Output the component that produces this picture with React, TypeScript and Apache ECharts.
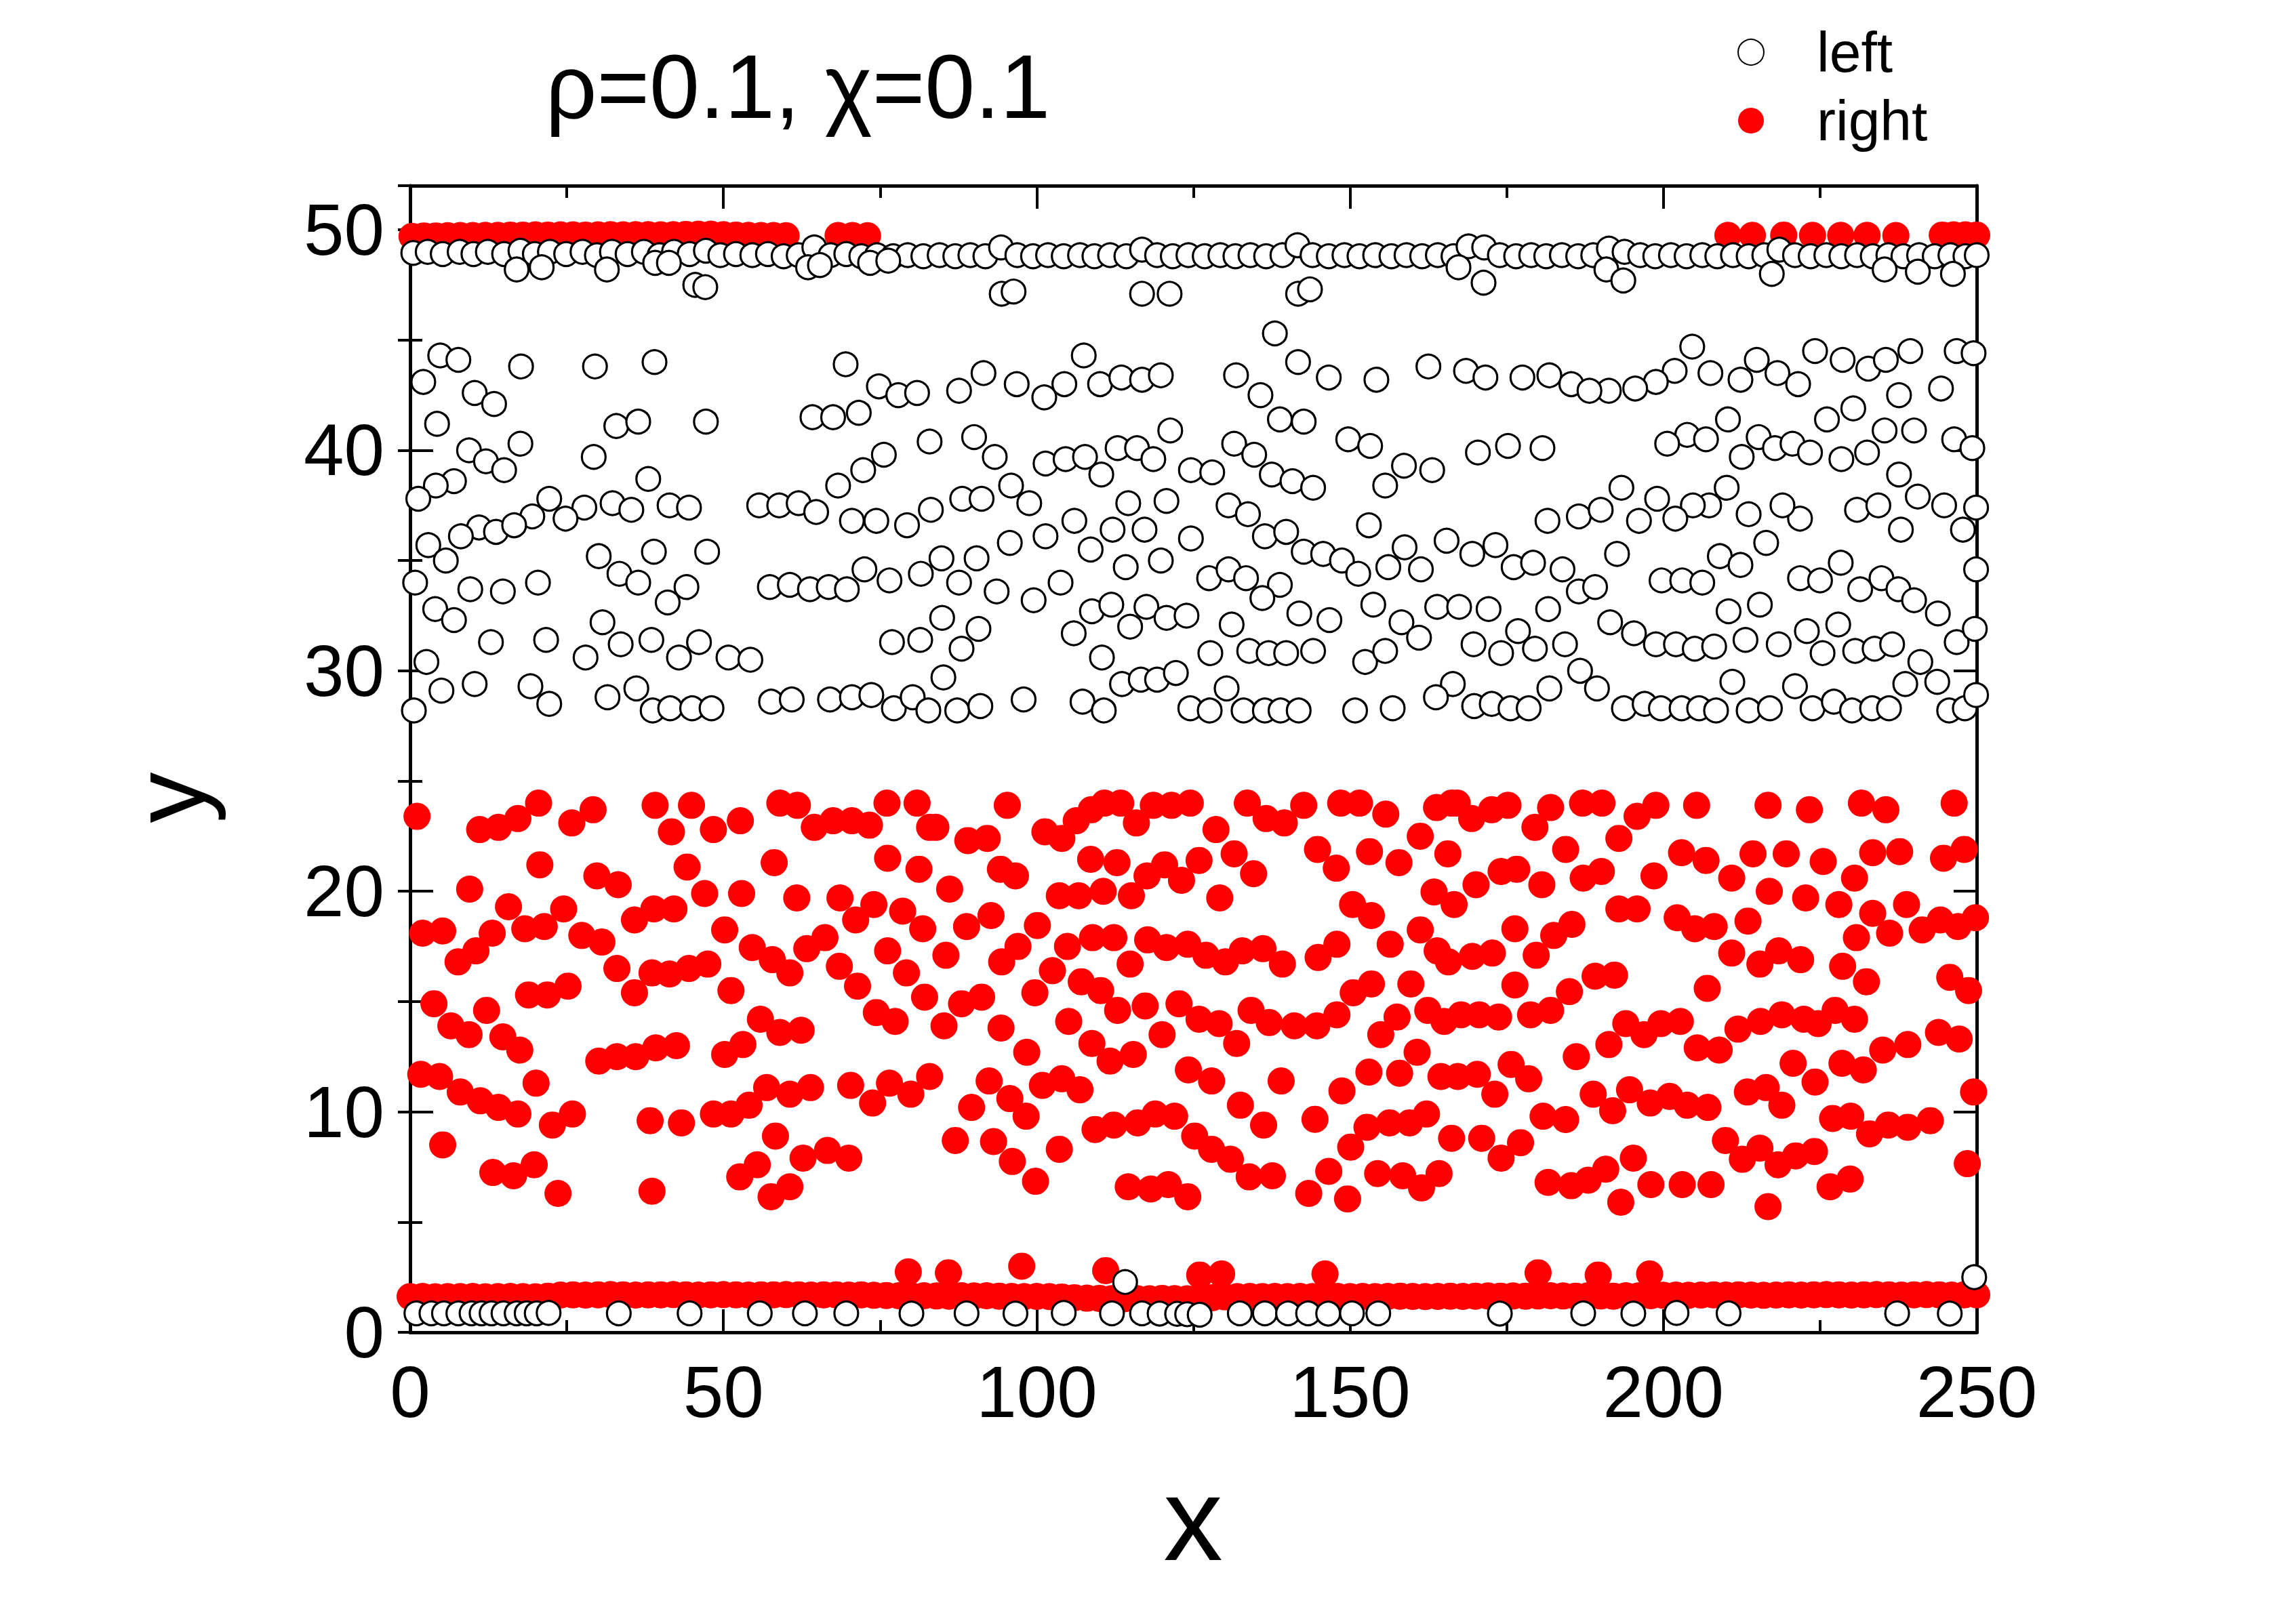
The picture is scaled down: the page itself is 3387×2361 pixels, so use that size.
import React, { useEffect, useRef } from "react";
import * as echarts from "echarts";

const FONT = "Liberation Sans, Arial, Helvetica, sans-serif";

const TITLE = "ρ=0.1, χ=0.1";
const SERIES_NAMES = ["left", "right"];
const X_MIN = 0;
const X_MAX = 250;
const X_STEP = 50;
const Y_MIN = 0;
const Y_MAX = 52;
const Y_STEP = 10;
const Y_LABELS = [0, 10, 20, 30, 40, 50];

// ---------- "left" (open circles) ----------
const leftBand: number[][] = [
  [4.8,44.3],[7.7,44.1],[17.7,43.8],[29.5,43.8],[39.0,44.0],[2.1,43.1],[10.3,42.6],[13.4,42.1],[4.3,41.2],[32.9,41.1],[36.4,41.3],[47.2,41.3],[9.4,40.0],[12.1,39.5],[17.6,40.3],[15.0,39.1],[29.3,39.7],[7.0,38.6],[4.1,38.4],[1.3,37.8],[38.0,38.7],[22.2,37.8],[27.8,37.4],[32.3,37.6],[35.3,37.3],[41.4,37.5],[44.5,37.4],[55.7,37.5],[58.9,37.5],[62.0,37.6],[19.5,37.0],[24.8,36.9],[11.0,36.5],[8.1,36.1],[13.7,36.3],[16.6,36.6],[2.9,35.7],[5.7,35.0],[30.1,35.2],[38.9,35.4],[47.4,35.4],[0.8,34.0],[9.6,33.7],[14.8,33.6],[20.4,34.0],[33.4,34.4],[36.4,34.0],[44.1,33.8],[41.1,33.1],[57.4,33.8],[60.6,33.9],[4.0,32.8],[7.0,32.3],[30.7,32.2],[12.9,31.3],[21.7,31.4],[33.6,31.2],[38.5,31.4],[46.1,31.3],[28.0,30.6],[42.9,30.6],[50.8,30.6],[54.3,30.5],[2.6,30.4],[10.3,29.4],[5.0,29.1],[19.2,29.3],[22.2,28.5],[31.5,28.8],[36.1,29.2],[38.7,28.2],[41.5,28.3],[45.0,28.3],[48.1,28.3],[57.6,28.6],[60.9,28.7],[0.6,28.2],
  [69.5,43.9],[74.8,42.9],[77.9,42.5],[80.9,42.6],[64.2,41.5],[67.5,41.5],[71.6,41.7],[87.6,42.7],[91.5,43.5],[96.8,43.0],[101.2,42.4],[104.4,43.0],[107.5,44.3],[110.1,43.0],[113.5,43.3],[116.8,43.2],[119.8,43.4],[82.9,40.4],[90.0,40.6],[93.3,39.7],[75.6,39.8],[72.3,39.1],[68.3,38.4],[101.4,39.4],[104.6,39.6],[107.7,39.7],[110.3,38.9],[112.9,40.1],[116.0,40.1],[118.6,39.6],[121.3,40.9],[124.6,39.1],[64.8,37.2],[70.5,36.8],[74.4,36.8],[79.3,36.6],[83.1,37.3],[88.1,37.8],[91.2,37.8],[95.9,38.4],[98.8,37.6],[114.6,37.6],[120.7,37.7],[106.0,36.8],[101.4,36.1],[95.7,35.8],[112.1,36.4],[117.2,36.4],[108.6,35.5],[124.6,36.0],[84.8,35.1],[90.4,35.1],[72.5,34.6],[81.5,34.4],[76.5,34.1],[63.8,33.7],[66.8,33.8],[69.7,33.7],[87.6,34.0],[93.6,33.6],[99.5,33.2],[103.8,34.0],[114.2,34.7],[119.8,35.0],[108.8,32.7],[111.9,33.0],[117.5,32.9],[120.7,32.4],[123.9,32.5],[114.9,32.0],[105.9,31.7],[84.9,32.4],[90.7,31.9],[88.0,31.0],[76.9,31.3],[81.4,31.4],[110.4,30.6],[85.1,29.7],[113.6,29.4],[116.6,29.6],[119.2,29.6],[122.2,29.9],[67.0,28.7],[70.5,28.8],[73.6,28.9],[77.2,28.3],[80.2,28.8],[82.7,28.2],[87.3,28.2],[91.0,28.4],[97.9,28.7],[107.3,28.6],[110.7,28.2],[124.5,28.3],
  [138.0,45.3],[141.7,44.0],[131.8,43.4],[146.6,43.3],[154.2,43.2],[162.5,43.8],[168.5,43.6],[171.6,43.3],[177.5,43.3],[181.8,43.4],[185.3,43.0],[135.7,42.5],[138.8,41.4],[142.6,41.3],[149.7,40.5],[153.2,40.2],[131.5,40.3],[134.7,39.8],[128.0,39.0],[137.5,38.9],[140.8,38.6],[144.1,38.3],[158.6,39.3],[163.1,39.1],[155.6,38.4],[170.4,39.9],[175.2,40.2],[180.7,40.1],[130.6,37.5],[133.7,37.1],[153.0,36.6],[181.5,36.8],[186.5,37.0],[136.4,36.1],[139.8,36.3],[142.6,35.4],[145.7,35.3],[148.7,35.0],[151.3,34.4],[156.1,34.7],[158.7,35.6],[161.3,34.6],[165.4,35.9],[169.5,35.3],[173.2,35.7],[176.1,34.7],[179.2,34.9],[183.9,34.6],[186.5,33.6],[127.5,34.2],[130.6,34.6],[133.4,34.2],[138.8,33.9],[136.0,33.3],[131.1,32.1],[141.9,32.6],[146.7,32.3],[153.7,33.0],[158.2,32.2],[161.0,31.5],[163.9,32.9],[167.4,32.9],[172.1,32.8],[181.6,32.8],[176.8,31.8],[169.7,31.2],[174.1,30.8],[179.5,31.0],[184.3,31.2],[186.7,30.0],[127.7,30.8],[133.9,30.9],[137.0,30.8],[139.8,30.8],[144.1,30.9],[152.4,30.4],[155.6,30.9],[130.3,29.2],[166.4,29.4],[163.7,28.8],[181.8,29.2],[127.6,28.2],[133.0,28.2],[136.4,28.2],[138.9,28.2],[141.8,28.2],[150.8,28.2],[156.8,28.3],[169.8,28.4],[172.6,28.5],[175.6,28.3],[178.5,28.3],
  [204.6,44.7],[201.8,43.6],[198.8,43.1],[195.5,42.8],[191.3,42.7],[188.2,42.7],[207.5,43.5],[212.3,43.2],[214.9,44.1],[218.2,43.5],[221.5,43.0],[224.2,44.5],[228.6,44.1],[232.7,43.7],[235.5,44.1],[239.4,44.5],[246.8,44.5],[249.5,44.4],[244.3,42.8],[237.6,42.5],[230.3,41.9],[226.1,41.4],[210.3,41.4],[203.8,40.7],[200.6,40.3],[206.8,40.5],[212.5,39.7],[215.2,40.6],[217.8,40.1],[220.6,40.3],[223.4,39.9],[228.4,39.6],[232.5,39.9],[235.3,40.9],[240.0,40.9],[246.4,40.5],[249.3,40.1],[237.6,38.9],[240.6,37.9],[244.8,37.5],[249.9,37.4],[247.8,36.4],[237.9,36.4],[230.9,37.3],[234.3,37.5],[221.8,36.9],[219.0,37.5],[213.6,37.1],[210.1,38.3],[207.3,37.5],[204.7,37.5],[201.9,36.9],[199.0,37.8],[196.1,36.8],[193.3,38.3],[190.0,37.3],[216.4,35.8],[192.6,35.3],[209.0,35.2],[212.3,34.8],[199.7,34.1],[203.0,34.1],[206.2,34.0],[189.1,33.8],[221.8,34.2],[225.0,34.1],[228.3,34.9],[231.4,33.7],[234.8,34.2],[237.5,33.7],[240.0,33.2],[243.8,32.6],[249.9,34.6],[210.4,32.7],[215.4,33.0],[191.5,32.2],[195.3,31.7],[198.8,31.2],[202.0,31.2],[205.0,31.0],[208.1,31.1],[213.1,31.4],[218.4,31.2],[222.9,31.8],[227.9,32.1],[225.4,30.8],[230.6,30.9],[233.7,31.0],[236.5,31.2],[241.0,30.4],[246.8,31.3],[249.7,31.9],[189.4,29.2],[211.0,29.5],[221.0,29.3],[238.6,29.4],[243.7,29.5],[193.7,28.3],[197.0,28.5],[199.6,28.3],[202.9,28.3],[205.7,28.3],[208.4,28.2],[213.6,28.2],[217.0,28.3],[223.8,28.3],[227.2,28.6],[230.1,28.2],[233.3,28.3],[236.0,28.3],[245.6,28.2],[248.1,28.3],[249.9,28.9]
];

const leftTopRow: number[][] = [
  [0.5,48.95],[2.8,49.0],[5.2,48.9],[7.9,49.0],[10.1,48.9],[12.4,49.0],[15.0,48.9],[17.6,49.05],[19.9,48.9],[22.3,49.0],[24.9,48.9],[27.5,49.0],[29.8,48.85],[32.2,49.0],[34.7,48.9],[37.3,49.0],[39.8,48.85],[42.1,49.0],[44.6,48.9],[47.2,49.05],[49.5,48.85],[52.0,48.9],[54.6,48.85],[57.1,48.9],[59.6,48.8],[62.0,48.85],[64.5,49.2],[67.1,48.85],[69.6,48.9],[72.0,48.8],[74.5,48.85],[77.1,48.8],[79.4,48.85],[81.9,48.8],[84.5,48.85],[87.0,48.8],[89.4,48.85],[91.8,48.8],[94.3,49.2],[96.9,48.85],[99.4,48.8],[101.8,48.85],[104.3,48.8],[106.9,48.85],[109.2,48.8],[111.7,48.85],[114.3,48.8],[116.8,49.1],[119.2,48.85],[121.7,48.8],[124.2,48.85],[126.8,48.8],[129.3,48.85],[131.7,48.8],[134.1,48.85],[136.6,48.8],[139.2,48.85],[141.6,49.3],[144.0,48.85],[146.6,48.8],[149.1,48.85],[151.5,48.8],[154.0,48.85],[156.6,48.8],[159.0,48.85],[161.5,48.8],[164.0,48.85],[166.5,48.8],[168.9,49.25],[171.4,49.2],[173.9,48.85],[176.5,48.8],[178.9,48.85],[181.3,48.8],[183.8,48.85],[186.4,48.8],[188.8,48.85],[191.3,49.15],[193.8,49.0],[196.3,48.85],[198.7,48.8],[201.2,48.85],[203.7,48.8],[206.2,48.85],[208.6,48.8],[211.1,48.85],[213.6,48.8],[216.1,48.85],[218.5,49.1],[221.0,48.85],[223.5,48.8],[226.0,48.85],[228.4,48.8],[230.9,48.85],[233.4,48.8],[235.9,48.85],[238.3,48.8],[240.8,48.85],[243.3,48.8],[245.8,48.85],[248.2,48.8],[250.0,48.85]
];

const leftTopDips: number[][] = [
  [17.0,48.2],[21.0,48.3],[31.4,48.2],[39.1,48.5],[41.3,48.5],[45.5,47.5],[47.1,47.4],[63.5,48.3],[65.4,48.4],[73.4,48.5],[76.3,48.6],[94.4,47.1],[96.3,47.2],[116.8,47.1],[121.2,47.1],[141.7,47.1],[143.6,47.3],[167.3,48.3],[171.3,47.6],[190.9,48.2],[193.6,47.7],[217.3,48.0],[235.3,48.2],[240.6,48.1],[246.2,48.0]
];

const leftBottomRow: number[][] = [
  [1.0,0.86],[3.4,0.86],[5.4,0.86],[7.7,0.86],[9.8,0.86],[11.4,0.86],[13.0,0.86],[14.9,0.86],[17.0,0.86],[18.6,0.86],[20.2,0.86],[22.1,0.88],[33.3,0.86],[44.6,0.86],[55.8,0.86],[63.0,0.86],[69.6,0.86],[80.0,0.85],[88.8,0.86],[96.6,0.85],[104.3,0.88],[112.0,0.86],[116.8,0.86],[119.6,0.85],[122.4,0.84],[124.0,0.82],[126.0,0.8],[132.4,0.86],[136.4,0.86],[140.1,0.86],[143.3,0.86],[146.5,0.85],[150.3,0.86],[154.5,0.86],[173.9,0.85],[187.2,0.86],[195.2,0.85],[202.1,0.88],[210.4,0.86],[237.3,0.86],[245.7,0.85],
  [114.1,2.28],[249.6,2.5]
];

// ---------- "right" (red dots) ----------
const rightBand: number[][] = [
  [1.1,23.4],[11.1,22.8],[14.1,22.9],[17.2,23.3],[20.5,24.0],[25.8,23.1],[29.2,23.7],[39.1,23.9],[44.9,23.9],[41.7,22.7],[48.4,22.8],[52.7,23.2],[59.0,24.0],[61.8,23.9],[64.5,22.9],[67.5,23.2],[70.5,23.2],[73.3,23.0],[76.1,24.0],[80.9,24.0],[82.9,22.9],[20.7,21.2],[9.5,20.1],[29.8,20.7],[33.2,20.3],[44.2,21.1],[58.1,21.3],[76.2,21.5],[81.2,21.0],[47.0,19.9],[52.9,19.9],[61.7,19.7],[68.6,19.7],[74.0,19.4],[78.6,19.1],[71.1,18.7],[81.8,18.3],[15.7,19.3],[24.5,19.2],[2.0,18.1],[5.2,18.2],[13.1,18.1],[18.3,18.3],[21.4,18.4],[35.8,18.7],[38.9,19.2],[42.1,19.2],[27.4,18.0],[30.6,17.7],[50.2,18.25],[54.6,17.45],[57.8,16.9],[60.6,16.3],[63.3,17.4],[66.2,17.9],[76.2,17.3],[68.5,16.6],[79.2,16.3],[71.4,15.7],[82.1,15.2],[7.65,16.8],[10.5,17.3],[33.0,16.5],[38.6,16.3],[41.4,16.25],[44.5,16.5],[47.5,16.7],[35.8,15.4],[18.9,15.3],[21.9,15.3],[25.2,15.7],[51.2,15.5],[3.8,14.9],[12.2,14.6],[6.5,13.9],[9.4,13.5],[14.8,13.4],[17.5,12.8],[55.9,14.2],[59.0,13.6],[62.4,13.7],[74.4,14.5],[77.4,14.1],[30.1,12.3],[33.0,12.5],[36.0,12.5],[39.2,12.9],[42.5,13.0],[50.2,12.6],[53.1,13.05],[1.7,11.7],[4.7,11.6],[8.0,10.9],[11.2,10.5],[14.1,10.2],[17.2,9.9],[20.1,11.3],[56.9,11.1],[60.6,10.8],[63.9,11.1],[54.1,10.3],[51.2,9.9],[48.4,9.9],[70.3,11.2],[73.8,10.4],[76.5,11.3],[79.9,10.8],[82.9,11.6],[25.9,9.9],[22.7,9.4],[38.3,9.6],[43.3,9.5],[5.2,8.5],[58.3,8.9],[62.7,7.9],[66.6,8.25],[70.0,7.9],[13.2,7.25],[16.5,7.1],[19.8,7.6],[52.6,7.05],[55.4,7.6],[60.6,6.6],[57.6,6.15],[23.6,6.3],[38.6,6.4],
  [95.3,23.9],[83.9,22.9],[89.0,22.3],[92.1,22.4],[101.3,22.7],[104.0,22.4],[106.3,23.2],[108.7,23.7],[110.8,24.0],[113.4,24.0],[115.9,23.1],[118.6,23.9],[121.5,23.9],[124.5,24.0],[128.6,22.8],[133.6,24.0],[136.6,23.3],[139.5,23.1],[142.6,23.9],[148.5,24.0],[151.5,24.0],[155.7,23.5],[161.2,22.5],[163.8,23.8],[166.2,24.0],[165.6,21.7],[94.2,21.0],[96.6,20.7],[108.6,21.45],[112.8,21.3],[117.6,20.7],[120.4,21.2],[123.1,20.5],[125.9,21.4],[131.5,21.7],[134.6,20.8],[144.8,21.9],[147.8,21.05],[153.1,21.8],[157.8,21.3],[86.1,20.1],[103.6,19.8],[106.7,19.8],[110.6,20.0],[115.1,19.8],[129.2,19.7],[163.4,19.97],[150.4,19.4],[153.4,18.9],[166.6,19.4],[161.2,18.25],[156.4,17.6],[163.9,17.3],[165.7,16.8],[88.8,18.4],[92.7,18.9],[100.1,18.45],[97.0,17.5],[94.4,16.8],[85.5,17.1],[104.9,17.5],[108.9,17.9],[112.3,17.9],[114.9,16.7],[117.7,17.8],[120.7,17.45],[124.1,17.6],[127.0,17.1],[130.1,16.8],[132.8,17.3],[136.1,17.4],[139.2,16.7],[144.9,17.0],[147.9,17.6],[102.5,16.4],[107.1,15.9],[110.2,15.5],[99.7,15.4],[88.0,14.9],[91.2,15.2],[85.2,13.9],[94.3,13.8],[105.1,14.1],[112.9,14.6],[117.3,14.8],[122.7,14.9],[125.9,14.2],[129.1,14.0],[134.2,14.6],[137.1,14.05],[141.1,13.9],[144.7,13.9],[147.9,14.4],[150.5,15.4],[153.4,15.8],[159.7,15.8],[162.4,14.6],[165.0,14.1],[157.5,14.3],[154.9,13.5],[108.8,13.1],[120.0,13.5],[131.9,13.1],[160.7,12.7],[98.4,12.7],[111.7,12.3],[115.4,12.6],[124.2,11.9],[127.9,11.4],[139.0,11.4],[153.0,11.8],[157.9,11.75],[164.5,11.6],[92.4,11.4],[95.7,10.6],[98.3,9.8],[89.6,10.2],[100.9,11.2],[104.0,11.5],[106.9,11.0],[132.5,10.3],[136.2,9.4],[148.7,10.95],[144.4,9.66],[109.3,9.2],[112.3,9.4],[116.1,9.5],[118.9,9.9],[122.0,9.8],[125.2,8.9],[127.9,8.3],[130.9,7.85],[152.7,9.3],[156.3,9.5],[159.5,9.5],[162.2,9.9],[166.2,8.8],[150.1,8.4],[87.0,8.7],[93.1,8.65],[96.1,7.75],[103.6,8.3],[99.8,6.85],[114.6,6.6],[118.2,6.5],[121.0,6.7],[124.1,6.15],[133.9,7.05],[137.6,7.1],[146.6,7.3],[143.4,6.3],[149.6,6.05],[154.4,7.2],[158.4,7.1],[161.4,6.55],[164.2,7.2],
  [167.1,24.0],[169.4,23.3],[172.6,23.7],[175.2,23.9],[179.5,22.9],[182.0,23.8],[187.1,24.0],[190.2,24.0],[195.8,23.4],[198.8,23.9],[205.3,23.9],[216.7,23.9],[223.3,23.7],[231.6,24.0],[235.5,23.7],[246.4,24.0],[192.9,22.4],[184.4,21.9],[202.9,21.75],[206.8,21.4],[214.3,21.7],[219.6,21.7],[225.5,21.35],[233.4,21.75],[237.7,21.8],[244.7,21.5],[248.0,21.9],[170.1,20.3],[174.1,20.9],[176.6,21.0],[180.6,20.3],[187.2,20.6],[190.1,20.9],[198.5,20.7],[210.9,20.6],[230.5,20.6],[216.9,20.0],[222.7,19.7],[228.0,19.4],[233.4,19.0],[238.8,19.4],[192.9,19.2],[195.8,19.2],[202.2,18.8],[205.0,18.3],[208.1,18.4],[213.5,18.65],[176.3,18.3],[182.5,18.0],[185.4,18.5],[230.8,17.9],[236.1,18.1],[241.3,18.25],[244.2,18.7],[247.0,18.4],[249.8,18.8],[169.5,17.05],[172.7,17.2],[179.7,17.1],[210.9,17.2],[215.4,16.7],[218.4,17.3],[221.9,16.9],[228.6,16.6],[232.4,15.9],[245.7,16.1],[248.7,15.5],[176.3,15.75],[185.0,15.45],[189.1,16.15],[192.2,16.2],[207.0,15.6],[167.7,14.4],[170.6,14.4],[173.7,14.3],[178.8,14.4],[182.0,14.6],[194.0,14.0],[196.9,13.5],[199.6,14.0],[202.7,14.1],[205.4,12.9],[208.9,12.8],[211.9,13.75],[215.5,14.1],[218.9,14.4],[222.4,14.2],[224.7,14.0],[227.4,14.6],[230.5,14.2],[243.9,13.6],[247.2,13.3],[235.0,12.8],[239.0,13.05],[191.3,13.05],[186.1,12.5],[220.7,12.2],[228.5,12.2],[231.9,11.9],[224.2,11.35],[167.2,11.6],[170.3,11.7],[175.7,12.15],[178.5,11.5],[173.1,10.8],[188.8,10.8],[194.6,11.0],[191.9,10.05],[197.9,10.4],[201.0,10.7],[203.8,10.3],[207.1,10.2],[213.4,10.9],[216.4,11.1],[218.9,10.3],[249.5,10.9],[227.0,9.7],[229.9,9.8],[232.9,9.0],[235.9,9.4],[239.0,9.3],[242.6,9.6],[180.8,9.8],[184.4,9.65],[171.0,8.8],[177.2,8.6],[174.1,7.9],[209.9,8.7],[212.6,7.85],[215.4,8.35],[218.3,7.6],[221.1,8.0],[224.1,8.2],[195.2,7.9],[190.8,7.4],[188.0,6.9],[185.3,6.65],[181.6,6.8],[198.0,6.7],[203.0,6.7],[207.6,6.7],[193.2,5.9],[216.7,5.7],[226.6,6.6],[229.8,6.95],[248.5,7.65]
];

const rightTopRow: number[][] = [
  [0.3,49.7],[2.2,49.72],[4.1,49.72],[6.0,49.73],[8.0,49.74],[10.0,49.74],[12.0,49.75],[14.0,49.75],[16.0,49.76],[18.0,49.76],[20.0,49.77],[22.0,49.76],[24.0,49.77],[26.0,49.77],[28.0,49.76],[30.0,49.77],[32.0,49.78],[34.0,49.77],[36.0,49.78],[38.0,49.78],[40.0,49.77],[42.0,49.78],[44.0,49.79],[46.0,49.8],[48.0,49.8],[50.0,49.78],[52.0,49.76],[54.0,49.75],[56.0,49.74],[58.0,49.74],[60.0,49.73],
  [68.3,49.74],[70.6,49.74],[73.0,49.73],
  [210.3,49.75],[214.2,49.75],[219.2,49.76],[223.8,49.75],[228.3,49.75],[232.5,49.75],[237.1,49.74],[244.5,49.76],[246.3,49.77],[248.2,49.77],[250.0,49.76]
];

const rightBottomRow: number[][] = [
  [0,1.62],[2,1.63],[4,1.61],[6,1.62],[8,1.62],[10,1.63],[12,1.61],[14,1.62],[16,1.63],[18,1.62],[20,1.61],[22,1.64],[24,1.69],[26,1.70],[28,1.69],[30,1.70],[32,1.71],[34,1.70],[36,1.69],[38,1.70],[40,1.70],[42,1.71],[44,1.70],[46,1.69],[48,1.70],[50,1.71],[52,1.70],[54,1.69],[56,1.70],[58,1.70],[60,1.71],[62,1.70],[64,1.69],[66,1.70],[68,1.70],[70,1.69],[72,1.70],[74,1.68],[76,1.67],[78,1.66],[80,1.65],[82,1.66],[84,1.65],[86,1.64],[88,1.66],[90,1.65],[92,1.66],[94,1.64],[96,1.63],[98,1.62],[100,1.63],[102,1.62],[104,1.60],[106,1.57],[108,1.55],[110,1.54],[112,1.53],[114,1.52],[116,1.53],[118,1.52],[120,1.54],[122,1.53],[124,1.52],[126,1.54],[128,1.57],[130,1.61],[132,1.62],[134,1.63],[136,1.62],[138,1.63],[140,1.62],[142,1.63],[144,1.62],[146,1.61],[148,1.63],[150,1.62],[152,1.63],[154,1.62],[156,1.63],[158,1.64],[160,1.63],[162,1.62],[164,1.63],[166,1.64],[168,1.63],[170,1.64],[172,1.65],[174,1.64],[176,1.65],[178,1.64],[180,1.65],[182,1.66],[184,1.65],[186,1.64],[188,1.66],[190,1.65],[192,1.64],[194,1.66],[196,1.65],[198,1.66],[200,1.68],[202,1.69],[204,1.68],[206,1.69],[208,1.70],[210,1.69],[212,1.70],[214,1.69],[216,1.68],[218,1.69],[220,1.70],[222,1.69],[224,1.70],[226,1.71],[228,1.70],[230,1.69],[232,1.70],[234,1.71],[236,1.70],[238,1.69],[240,1.70],[242,1.71],[244,1.70],[246,1.69],[248,1.70],[250,1.70]
];

const rightBottomRaised: number[][] = [
  [79.5,2.74],[85.9,2.7],[97.6,3.0],[111.0,2.8],[126.0,2.6],[129.5,2.65],[146.0,2.65],[180.0,2.7],[189.6,2.6],[197.8,2.65]
];

const GRID = { left: 605, right: 471, top: 274, bottom: 395 };

export default function App() {
  const ref = useRef<HTMLDivElement>(null);

  useEffect(() => {
    if (!ref.current) return;
    const chart = echarts.init(ref.current, null, { renderer: "svg" });

    const lineStyle = { color: "#000", width: 5 };
    const tickStyle = { color: "#000", width: 4 };

    const xAxisBase = {
      type: "value",
      min: X_MIN,
      max: X_MAX,
      interval: X_STEP,
      splitLine: { show: false },
      axisLine: { show: true, onZero: false, lineStyle },
      axisTick: { show: true, inside: true, length: 34, lineStyle: tickStyle },
      minorTick: { show: true, splitNumber: 2, length: 18, lineStyle: tickStyle },
    };

    const yMajor = {
      type: "value",
      min: Y_MIN,
      max: Y_MAX,
      interval: Y_STEP,
      splitLine: { show: false },
      axisLine: { show: true, onZero: false, lineStyle },
      axisTick: { show: true, inside: true, length: 34, lineStyle: tickStyle },
    };
    const yMinor = {
      type: "value",
      min: Y_MIN,
      max: Y_MAX,
      interval: Y_STEP / 2,
      splitLine: { show: false },
      axisLine: { show: false },
      axisLabel: { show: false },
      axisTick: { show: true, inside: true, length: 18, lineStyle: tickStyle },
    };

    const option: any = {
      animation: false,
      backgroundColor: "#fff",
      grid: GRID,
      xAxis: [
        {
          ...xAxisBase,
          position: "bottom",
          axisLabel: {
            show: true,
            fontSize: 107,
            fontFamily: FONT,
            color: "#000",
            margin: 34,
          },
        },
        {
          ...xAxisBase,
          position: "top",
          axisLabel: { show: false },
        },
      ],
      yAxis: [
        {
          ...yMajor,
          position: "left",
          axisLabel: {
            show: true,
            fontSize: 107,
            fontFamily: FONT,
            color: "#000",
            margin: 38,
            showMaxLabel: false,
            formatter: (v: number) => (Y_LABELS.indexOf(v) >= 0 ? String(v) : ""),
          },
        },
        { ...yMinor, position: "left" },
        { ...yMajor, position: "right", axisLabel: { show: false } },
        { ...yMinor, position: "right" },
      ],
      legend: {
        data: SERIES_NAMES,
        orient: "vertical",
        left: 2558,
        top: 30,
        itemWidth: 38,
        itemHeight: 38,
        itemGap: 17,
        icon: "circle",
        textStyle: {
          fontSize: 84,
          fontFamily: FONT,
          color: "#000",
          padding: [0, 0, 0, 73],
        },
      },
      graphic: [
        {
          type: "text",
          x: 1177,
          y: 128,
          style: {
            text: TITLE,
            fontSize: 133,
            fontFamily: FONT,
            fill: "#000",
            align: "center",
            verticalAlign: "middle",
          },
        },
        {
          type: "text",
          x: 1760,
          y: 2241,
          style: {
            text: "x",
            fontSize: 175,
            fontFamily: FONT,
            fill: "#000",
            align: "center",
            verticalAlign: "middle",
          },
        },
        {
          type: "text",
          x: 250,
          y: 1177,
          rotation: Math.PI / 2,
          style: {
            text: "y",
            fontSize: 150,
            fontFamily: FONT,
            fill: "#000",
            align: "center",
            verticalAlign: "middle",
          },
        },
      ],
      series: [
        {
          name: "right",
          type: "scatter",
          xAxisIndex: 0,
          yAxisIndex: 0,
          symbol: "circle",
          symbolSize: 40,
          itemStyle: { color: "#ff0000", borderWidth: 0, opacity: 1 },
          data: [...rightBottomRow, ...rightTopRow, ...rightBand, ...rightBottomRaised],
        },
        {
          name: "left",
          type: "scatter",
          xAxisIndex: 0,
          yAxisIndex: 0,
          symbol: "circle",
          symbolSize: 35,
          itemStyle: { color: "#ffffff", borderColor: "#000000", borderWidth: 3.2, opacity: 1 },
          data: [...leftTopRow, ...leftTopDips, ...leftBand, ...leftBottomRow],
        },
      ],
    };

    chart.setOption(option);
    return () => chart.dispose();
  }, []);

  return (
    <div
      ref={ref}
      style={{ position: "fixed", left: 0, top: 0, width: "3387px", height: "2361px", background: "#fff" }}
    />
  );
}
